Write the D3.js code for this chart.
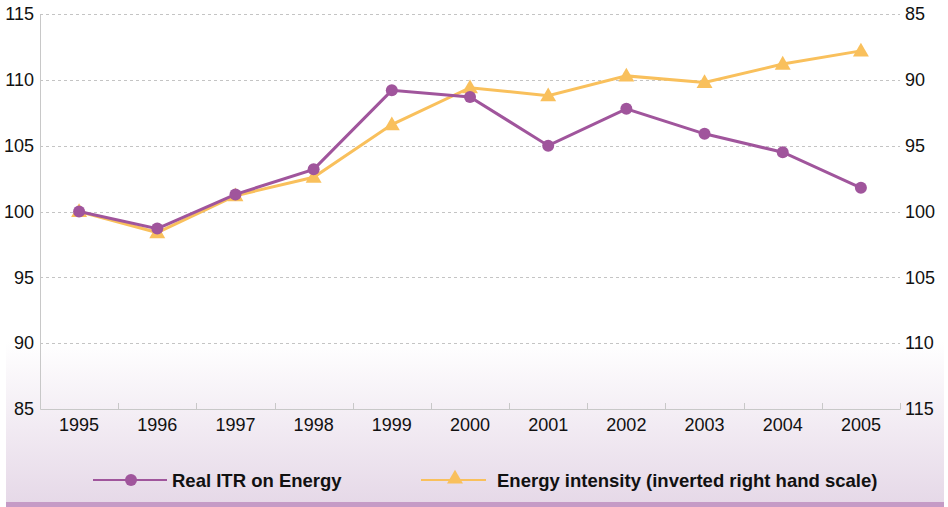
<!DOCTYPE html>
<html>
<head>
<meta charset="utf-8">
<script src="https://cdn.jsdelivr.net/npm/d3@7"></script>
<style>
  body { margin: 0; background: #fff; }
  svg { display: block; font-family: "Liberation Sans", Arial, sans-serif; }
</style>
</head>
<body>
<div id="chart"></div>
<script>
var years = ["1995", "1996", "1997", "1998", "1999", "2000", "2001", "2002", "2003", "2004", "2005"];
var realItr = [100, 98.7, 101.3, 103.2, 109.2, 108.7, 105.0, 107.8, 105.9, 104.5, 101.8];
var energyIntensity = [100, 101.6, 98.8, 97.4, 93.4, 90.6, 91.2, 89.7, 90.2, 88.8, 87.8];
var leftTicks = [85, 90, 95, 100, 105, 110, 115];
var rightTicks = [85, 90, 95, 100, 105, 110, 115];

var width = 948, height = 507;
var margin = {top: 14, right: 48, bottom: 99, left: 40};
var purple = "#a0559c", orange = "#f9c05c";

var svg = d3.select("#chart").append("svg")
    .attr("width", width)
    .attr("height", height);

// background panel with purple fade at bottom
var defs = svg.append("defs");
var grad = defs.append("linearGradient")
    .attr("id", "bg")
    .attr("x1", 0).attr("y1", 0).attr("x2", 0).attr("y2", 1);
grad.append("stop").attr("offset", "0%").attr("stop-color", "#ffffff");
grad.append("stop").attr("offset", "68%").attr("stop-color", "#ffffff");
grad.append("stop").attr("offset", "100%").attr("stop-color", "#e6d9e8");
svg.append("rect")
    .attr("x", 6).attr("y", 0)
    .attr("width", 938).attr("height", 502)
    .attr("fill", "url(#bg)");
svg.append("rect")
    .attr("x", 6).attr("y", 502)
    .attr("width", 938).attr("height", 5)
    .attr("fill", "#c59bc6");

var x = d3.scaleBand()
    .domain(years)
    .range([margin.left, width - margin.right]);

var yLeft = d3.scaleLinear()
    .domain([85, 115])
    .range([height - margin.bottom + 1, margin.top]);

// inverted right hand scale
var yRight = d3.scaleLinear()
    .domain([115, 85])
    .range([height - margin.bottom + 1, margin.top]);

// gridlines
svg.append("g")
    .selectAll("line")
    .data(leftTicks.filter(d => d > 85))
    .enter().append("line")
    .attr("x1", margin.left)
    .attr("x2", width - margin.right)
    .attr("y1", d => Math.round(yLeft(d)) + 0.5)
    .attr("y2", d => Math.round(yLeft(d)) + 0.5)
    .attr("stroke", "#c4c4c4")
    .attr("stroke-dasharray", "3,3");

// left axis
var leftAxis = svg.append("g")
    .attr("transform", "translate(" + margin.left + ",0)")
    .call(d3.axisLeft(yLeft).tickValues(leftTicks).tickSize(0).tickPadding(6));
leftAxis.select(".domain").attr("stroke", "#c8c8c8");
leftAxis.selectAll("text").attr("font-size", 18).attr("fill", "#111");

// right axis
var rightAxis = svg.append("g")
    .attr("transform", "translate(" + (width - margin.right) + ",0)")
    .call(d3.axisRight(yRight).tickValues(rightTicks).tickSize(0).tickPadding(5));
rightAxis.select(".domain").remove();
rightAxis.selectAll("text").attr("font-size", 18).attr("fill", "#111");

// bottom axis
var xAxis = svg.append("g")
    .attr("transform", "translate(0," + (height - margin.bottom + 1) + ")")
    .call(d3.axisBottom(x).tickSize(0).tickPadding(9));
xAxis.select(".domain").attr("stroke", "#c8c8c8");
xAxis.selectAll("text").attr("font-size", 18).attr("fill", "#111");
xAxis.selectAll(".sep")
    .data(years.slice(1).concat(["end"]))
    .enter().append("line")
    .attr("class", "sep")
    .attr("x1", (d, i) => Math.round(margin.left + x.step() * (i + 1)) + 0.5)
    .attr("x2", (d, i) => Math.round(margin.left + x.step() * (i + 1)) + 0.5)
    .attr("y1", 0)
    .attr("y2", -6)
    .attr("stroke", "#c8c8c8");

var cx = d => x(d) + x.bandwidth() / 2;

// energy intensity line
svg.append("path")
    .datum(energyIntensity)
    .attr("fill", "none")
    .attr("stroke", orange)
    .attr("stroke-width", 3)
    .attr("d", d3.line().x((d, i) => cx(years[i])).y(d => yRight(d)));

var tri = d3.symbol().type(d3.symbolTriangle).size(110);
svg.append("g")
    .selectAll("path")
    .data(energyIntensity)
    .enter().append("path")
    .attr("d", tri)
    .attr("transform", (d, i) => "translate(" + cx(years[i]) + "," + (yRight(d) + 1) + ")")
    .attr("fill", orange);

// real ITR line
svg.append("path")
    .datum(realItr)
    .attr("fill", "none")
    .attr("stroke", purple)
    .attr("stroke-width", 3)
    .attr("d", d3.line().x((d, i) => cx(years[i])).y(d => yLeft(d)));

svg.append("g")
    .selectAll("circle")
    .data(realItr)
    .enter().append("circle")
    .attr("cx", (d, i) => cx(years[i]))
    .attr("cy", d => yLeft(d))
    .attr("r", 6)
    .attr("fill", purple);

// legend
var legY = 480;
var leg1 = svg.append("g");
leg1.append("line")
    .attr("x1", 93).attr("x2", 167)
    .attr("y1", legY).attr("y2", legY)
    .attr("stroke", purple).attr("stroke-width", 2);
leg1.append("circle")
    .attr("cx", 131).attr("cy", legY).attr("r", 6)
    .attr("fill", purple);
leg1.append("text")
    .attr("x", 172).attr("y", legY + 7)
    .attr("font-size", 18.5).attr("font-weight", "bold").attr("fill", "#111")
    .text("Real ITR on Energy");

var leg2 = svg.append("g");
leg2.append("line")
    .attr("x1", 421).attr("x2", 486)
    .attr("y1", legY).attr("y2", legY)
    .attr("stroke", orange).attr("stroke-width", 2);
leg2.append("path")
    .attr("d", tri)
    .attr("transform", "translate(455," + (legY - 1) + ")")
    .attr("fill", orange);
leg2.append("text")
    .attr("x", 497).attr("y", legY + 7)
    .attr("font-size", 18.5).attr("font-weight", "bold").attr("fill", "#111")
    .text("Energy intensity (inverted right hand scale)");
</script>
</body>
</html>
